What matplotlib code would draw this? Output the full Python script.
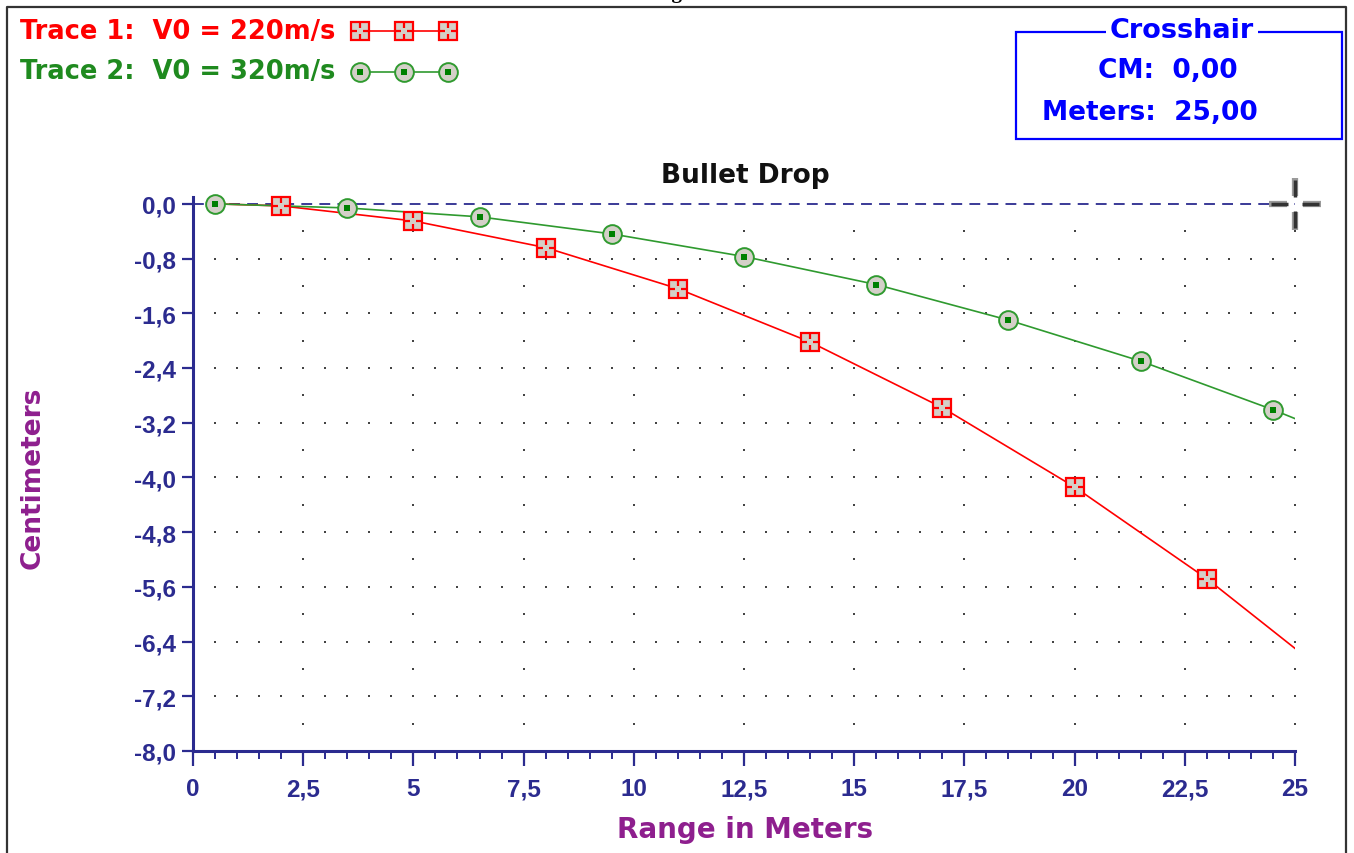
import matplotlib
matplotlib.use("Agg")
import matplotlib.pyplot as plt
import numpy as np
from matplotlib.path import Path
from matplotlib.patches import Rectangle

# Data (range in meters, drop in cm)
trace1_label = "Trace 1:  V0 = 220m/s"
trace1_x = [0.5, 2, 5, 8, 11, 14, 17, 20, 23, 25]
trace1_y = [0.0, -0.03, -0.25, -0.64, -1.24, -2.02, -2.98, -4.14, -5.48, -6.50]
trace1_marks = [1, 2, 3, 4, 5, 6, 7, 8]   # indices that carry a marker

trace2_label = "Trace 2:  V0 = 320m/s"
trace2_x = [0.5, 3.5, 6.5, 9.5, 12.5, 15.5, 18.5, 21.5, 24.5, 25]
trace2_y = [0.0, -0.06, -0.19, -0.44, -0.77, -1.18, -1.70, -2.30, -3.01, -3.14]
trace2_marks = [0, 1, 2, 3, 4, 5, 6, 7, 8]

x_ticks = [0, 2.5, 5, 7.5, 10, 12.5, 15, 17.5, 20, 22.5, 25]
y_ticks = [0.0, -0.8, -1.6, -2.4, -3.2, -4.0, -4.8, -5.6, -6.4, -7.2, -8.0]

crosshair_cm = 0.0
crosshair_m = 25.0

NAVY = "#2b2b8f"
RED = "#ff0000"
GREEN = "#2f9a2f"
GREEN_TXT = "#1f8a1f"
PURPLE = "#8e1f8e"
GRAY = "#d4d0c8"
BLUE = "#0000ff"


def comma(v, fmt):
    return (fmt % v).replace(".", ",")


fig = plt.figure(figsize=(13.54, 8.54), dpi=100)
W, H = 1354, 854

# main plot area (pixels: x 193..1295, y 198..752)
ax = fig.add_axes([193 / W, 1 - 752 / H, (1295 - 193) / W, (752 - 198) / H])
ax.set_xlim(0, 25)
ax.set_ylim(-8, 0.1)

for s in ["top", "right"]:
    ax.spines[s].set_visible(False)
for s in ["left", "bottom"]:
    ax.spines[s].set_color(NAVY)
    ax.spines[s].set_linewidth(2.2)

ax.set_xticks(x_ticks)
ax.set_xticklabels([comma(v, "%g") for v in x_ticks])
ax.set_xticks(np.arange(0, 25.01, 0.5), minor=True)
ax.set_yticks(y_ticks)
ax.set_yticklabels([comma(v, "%.1f") for v in y_ticks])
ax.tick_params(axis="x", which="major", length=11, width=1.6, color=NAVY, pad=8)
ax.tick_params(axis="x", which="minor", length=6, width=1.4, color=NAVY)
ax.tick_params(axis="y", which="major", length=8, width=1.6, color=NAVY, pad=4)
for lab in ax.get_xticklabels() + ax.get_yticklabels():
    lab.set_fontfamily("Liberation Sans")
    lab.set_fontweight("bold")
    lab.set_fontsize(17.5)
    lab.set_color(NAVY)

# dotted grid: rows at major y with dots on minor x, columns at major x with dots every 0.4
gx = np.arange(0.5, 25.01, 0.5)
for yv in y_ticks[1:-1]:
    ax.scatter(gx, np.full_like(gx, yv), s=2.2, color="#444444", marker="s", lw=0, zorder=1)
gy = np.arange(-0.4, -7.61, -0.4)
for xv in x_ticks[1:]:
    ax.scatter(np.full_like(gy, xv), gy, s=2.2, color="#444444", marker="s", lw=0, zorder=1)

# zero line
ax.axhline(0, color=NAVY, lw=1.3, ls=(0, (6, 4)), zorder=2)

# traces
ax.plot(trace1_x, trace1_y, color=RED, lw=1.2, zorder=3)
ax.plot(trace2_x, trace2_y, color=GREEN, lw=1.2, zorder=3)


def red_marker(a, xs, ys, **kw):
    a.plot(xs, ys, ls="none", marker="s", ms=13, mfc=GRAY, mec=RED, mew=1.6, zorder=5, **kw)
    a.plot(xs, ys, ls="none", marker="+", ms=12, mec=RED, mew=1.6, zorder=6, **kw)
    a.plot(xs, ys, ls="none", marker="s", ms=4, mfc=GRAY, mec=GRAY, mew=0, zorder=7, **kw)


def green_marker(a, xs, ys, **kw):
    a.plot(xs, ys, ls="none", marker="o", ms=13.5, mfc=GRAY, mec=GREEN, mew=1.4, zorder=5, **kw)
    a.plot(xs, ys, ls="none", marker="s", ms=5, mfc="#008000", mec="#008000", mew=0, zorder=6, **kw)


red_marker(ax, [trace1_x[i] for i in trace1_marks], [trace1_y[i] for i in trace1_marks], clip_on=False)
green_marker(ax, [trace2_x[i] for i in trace2_marks], [trace2_y[i] for i in trace2_marks], clip_on=False)

# crosshair cursor
arms = Path([(-1, 0), (-0.3, 0), (0.3, 0), (1, 0), (0, -1), (0, -0.3), (0, 0.3), (0, 1)],
            [Path.MOVETO, Path.LINETO] * 4)
ax.plot([crosshair_m], [crosshair_cm], ls="none", marker=arms, ms=37, mec="#9a9a9a", mew=4.5,
        clip_on=False, zorder=8)
ax.plot([crosshair_m], [crosshair_cm], ls="none", marker=arms, ms=35, mec="#333333", mew=2.5,
        clip_on=False, zorder=9)

ax.set_xlabel("Range in Meters", fontsize=20, fontweight="bold", color=PURPLE,
              fontfamily="DejaVu Sans")
ax.xaxis.set_label_coords((745 - 193) / 1102, -(830 - 752) / 554)
ax.xaxis.label.set_va("center")
ax.set_ylabel("Centimeters", fontsize=19, fontweight="bold", color=PURPLE,
              fontfamily="DejaVu Sans")
ax.yaxis.set_label_coords((33 - 193) / 1102, (752 - 478) / 554)
ax.yaxis.label.set_va("center")

# overlay in pixel coordinates for title, legend, crosshair box and frame
ov = fig.add_axes([0, 0, 1, 1], zorder=10)
ov.set_xlim(0, W)
ov.set_ylim(H, 0)
ov.axis("off")
ov.patch.set_alpha(0)

ov.text(745, 176, "Bullet Drop", ha="center", va="center", fontsize=19, fontweight="bold",
        color="#111111", fontfamily="DejaVu Sans")

# outer frame
ov.plot([7, 7, 1346, 1346], [H, 8, 8, H], color="#333333", lw=1.6)
ov.text(690, -2, "Figure 6", ha="center", va="baseline", fontsize=15, fontweight="bold",
        color="black", fontfamily="Liberation Serif")

# legend
ov.text(20, 32, trace1_label, color=RED, fontsize=18.5, fontweight="bold", va="center",
        fontfamily="DejaVu Sans")
ov.text(20, 72, trace2_label, color=GREEN_TXT, fontsize=18.5, fontweight="bold", va="center",
        fontfamily="DejaVu Sans")
lx = [360, 404, 448]
ov.plot(lx, [32] * 3, color=RED, lw=1.2)
red_marker(ov, lx, [32] * 3)
ov.plot(lx, [73] * 3, color=GREEN, lw=1.2)
green_marker(ov, lx, [73] * 3)

# crosshair readout box
ov.add_patch(Rectangle((1016, 33), 326, 107, fill=False, ec=BLUE, lw=1.6))
ov.text(1182, 31, "Crosshair", ha="center", va="center", color=BLUE, fontsize=19.5,
        fontweight="bold", fontfamily="DejaVu Sans",
        bbox=dict(facecolor="white", edgecolor="none", pad=3))
ov.text(1168, 71, "CM:  " + comma(crosshair_cm, "%.2f"), ha="center", va="center", color=BLUE,
        fontsize=19, fontweight="bold", fontfamily="DejaVu Sans")
ov.text(1150, 113, "Meters:  " + comma(crosshair_m, "%.2f"), ha="center", va="center", color=BLUE,
        fontsize=19, fontweight="bold", fontfamily="DejaVu Sans")

fig.savefig("out.png", dpi=100)
